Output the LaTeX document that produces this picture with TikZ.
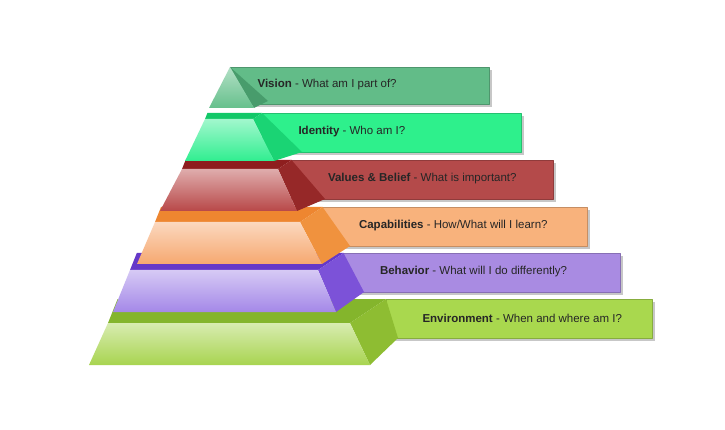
\documentclass[tikz,border=0pt]{standalone}
\usepackage{fontspec}
\setmainfont{Liberation Sans}
\begin{document}
\begin{tikzpicture}[x=1pt,y=-1pt,line join=round,
  lbl/.style={anchor=west,font=\fontsize{11.5}{13}\selectfont,text=black!85}]
\useasboundingbox (0,0) rectangle (725,430);
\fill[white] (0,0) rectangle (725,430);
% #1 T, #2 Lb, #3 Lt, #4 Rt, #5 Rb, #6 box top, #7 box right, #8 colour prefix / node name, #9 text
\newcommand\pyrlayer[9]{%
  \pgfmathsetmacro\Bt{#1+42}\pgfmathsetmacro\Bb{#6+39}%
  \pgfmathsetmacro\Dx{#4+(#1-#6)*1.5}\pgfmathsetmacro\Dxb{#5+28}\pgfmathsetmacro\Lk{#3+(#1-#6)*0.4}%
  \fill[black!22] (\Dx+3,#6+3) rectangle (#7+3,\Bb+3);
  \fill[#8box] (\Dx,#6) rectangle (#7,\Bb);
  \draw[#8box!80!black,line width=0.4pt] (\Dx,#6) rectangle (#7,\Bb);
  \fill[#8top] (#3,#1) -- (#4,#1) -- (\Dx,#6) -- (\Lk,#6) -- cycle;
  \fill[#8side] (#4,#1) -- (#5,\Bt) -- (\Dxb,\Bb) -- (\Dx,#6) -- cycle;
  \shade[top color=#8front!45!white,bottom color=#8front] (#3,#1) -- (#4,#1) -- (#5,\Bt) -- (#2,\Bt) -- cycle;
  \node[lbl] (#8) at (\Dx+33,#6+19) {#9};
}
\definecolor{envbox}{HTML}{A9D84E}\definecolor{envtop}{HTML}{84B52C}\definecolor{envside}{HTML}{8EBD32}\definecolor{envfront}{HTML}{A8D450}
\definecolor{behbox}{HTML}{A98BE2}\definecolor{behtop}{HTML}{6538C8}\definecolor{behside}{HTML}{7C52D8}\definecolor{behfront}{HTML}{A488E8}
\definecolor{capbox}{HTML}{F8B27C}\definecolor{captop}{HTML}{EE8630}\definecolor{capside}{HTML}{F0923E}\definecolor{capfront}{HTML}{F6A870}
\definecolor{valbox}{HTML}{B44A4A}\definecolor{valtop}{HTML}{8E1E1E}\definecolor{valside}{HTML}{962828}\definecolor{valfront}{HTML}{B84848}
\definecolor{idbox}{HTML}{2EF08C}\definecolor{idtop}{HTML}{12C868}\definecolor{idside}{HTML}{1AD474}\definecolor{idfront}{HTML}{30EE90}
\definecolor{visbox}{HTML}{62BC88}\definecolor{visside}{HTML}{489C6C}\definecolor{visfront}{HTML}{66C08C}
\pyrlayer{323}{89}{108}{350}{370}{299}{652}{env}{\textbf{Environment} - When and where am I?}
\pyrlayer{270}{113}{130}{318}{336}{253}{620}{beh}{\textbf{Behavior} - What will I do differently?}
\pyrlayer{222}{137}{155}{300}{322}{207}{587}{cap}{\textbf{Capabilities} - How/What will I learn?}
\pyrlayer{169}{160}{182}{278}{297}{160}{553}{val}{\textbf{Values \& Belief} - What is important?}
\pyrlayer{119}{185}{205}{253}{274}{113}{521}{id}{\textbf{Identity} - Who am I?}
% Vision (apex)
\fill[black!22] (233,70) rectangle (492,107);
\fill[visbox] (230,67) rectangle (489,104);
\draw[visbox!80!black,line width=0.4pt] (230,67) rectangle (489,104);
\fill[visside] (230,67) -- (254,108) -- (268,101) -- cycle;
\shade[top color=visfront!50!white,bottom color=visfront] (230,67) -- (254,108) -- (209,108) -- cycle;
\node[lbl] (vis) at (254,85) {\textbf{Vision} - What am I part of?};
\end{tikzpicture}
\end{document}
